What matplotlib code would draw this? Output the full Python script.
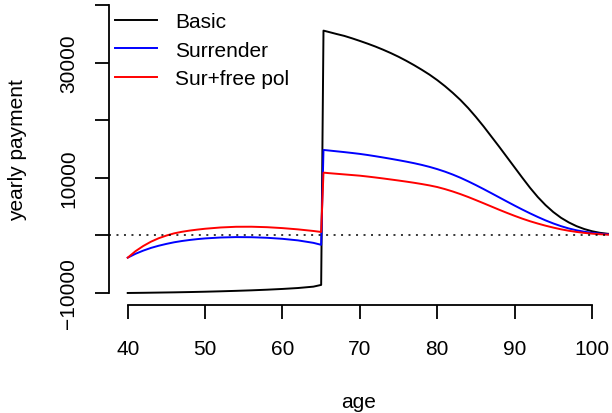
import matplotlib
matplotlib.use("Agg")
import matplotlib.pyplot as plt

# ---- data ----
age = [40, 41, 42, 43, 44, 45, 46, 47, 48, 49, 50, 52, 54, 56, 58, 60, 62, 64, 65,
       65.3, 66, 67, 68, 69, 70, 71, 72, 73, 74, 75, 76, 77, 78, 79, 80,
       81, 82, 83, 84, 85, 86, 87, 88, 89, 90, 91, 92, 93, 94, 95, 96, 97, 98, 99, 100,
       101, 102, 103, 104]

basic = [-10000, -9985, -9970, -9950, -9930, -9910, -9890, -9865, -9840, -9810, -9780,
         -9710, -9630, -9540, -9430, -9300, -9140, -8900, -8600,
         35540, 35300, 34950, 34620, 34200, 33750, 33280, 32780, 32230, 31640, 31000, 30300,
         29550, 28750, 27900, 26950,
         25900, 24750, 23500, 22100, 20550, 18900, 17150, 15400, 13600, 11800, 10000, 8250,
         6650, 5250, 4050, 3050, 2250, 1600, 1100, 720,
         450, 280, 170, 100]

surrender = [-3870, -3200, -2650, -2180, -1800, -1480, -1200, -980, -800, -650, -530,
             -370, -300, -320, -420, -600, -870, -1300, -1640,
             14830, 14730, 14590, 14450, 14300, 14140, 13950, 13740, 13520, 13290, 13050, 12800,
             12530, 12230, 11890, 11500,
             11060, 10560, 10000, 9380, 8720, 8030, 7320, 6600, 5880, 5170, 4480, 3820,
             3190, 2600, 2070, 1600, 1200, 880, 630, 440,
             300, 195, 120, 70]

sur_free = [-3870, -2750, -1850, -1100, -500, -30, 350, 620, 830, 1000, 1150,
            1370, 1490, 1500, 1420, 1260, 1040, 760, 590,
            10890, 10800, 10690, 10580, 10470, 10360, 10210, 10050, 9880, 9700, 9520, 9330,
            9130, 8910, 8670, 8390,
            8030, 7620, 7160, 6660, 6120, 5570, 5010, 4450, 3910, 3390, 2900, 2450,
            2050, 1680, 1350, 1050, 800, 600, 430, 300,
            200, 130, 80, 50]

series_names = ["Basic", "Surrender", "Sur+free pol"]
series_colors = ["black", "blue", "red"]

x_ticks = [40, 50, 60, 70, 80, 90, 100]
y_ticks = [-10000, 0, 10000, 20000, 30000, 40000]
y_tick_labels = ["\u221210000", "", "10000", "", "30000", ""]

# ---- figure ----
W, H, DPI = 612, 414, 100
plt.rcParams['font.family'] = ['Liberation Sans', 'DejaVu Sans']
fig = plt.figure(figsize=(W / DPI, H / DPI), dpi=DPI)

left_px, right_px = 109, 609
bottom_px, top_px = 305.5, -5.6
ax = fig.add_axes([left_px / W, (H - bottom_px) / H,
                   (right_px - left_px) / W, (bottom_px - top_px) / H])

lw = 1.4
for vals, name, col in zip([basic, surrender, sur_free], series_names, series_colors):
    ax.plot(age, vals, color=col, lw=lw, label=name)

ax.axhline(0, color='black', lw=1.1, linestyle=(0, (1.3, 3.6)))

ax.set_xlim(37.58, 102.2)
ax.set_ylim(-12000, 42000)

for s in ['top', 'right']:
    ax.spines[s].set_visible(False)
ax.spines['left'].set_bounds(-10000, 40000)
ax.spines['bottom'].set_bounds(40, 100)
for s in ['left', 'bottom']:
    ax.spines[s].set_linewidth(1.3)

ax.set_xticks(x_ticks)
ax.set_xticklabels([str(v) for v in x_ticks])
ax.set_yticks(y_ticks)
ax.set_yticklabels(y_tick_labels, rotation=90, va='center')
ax.tick_params(axis='both', length=10, width=1.3, labelsize=15, direction='out')
ax.tick_params(axis='x', pad=15)
ax.tick_params(axis='y', pad=12)

ax.set_xlabel("age", fontsize=15)
ax.set_ylabel("yearly payment", fontsize=15)
ax.xaxis.set_label_coords(0.5, -(403 - bottom_px) / (bottom_px - top_px), transform=ax.transAxes)
ax.yaxis.set_label_coords(-(left_px - 18) / (right_px - left_px), 0.5, transform=ax.transAxes)
ax.xaxis.label.set_va('center')
ax.yaxis.label.set_va('center')

leg = ax.legend(loc='upper left', frameon=False, fontsize=15,
                handlelength=2.0, handletextpad=0.9, labelspacing=0.45,
                borderpad=0, borderaxespad=0,
                bbox_to_anchor=(115 / W, 1 - 13.3 / H), bbox_transform=fig.transFigure)

fig.savefig("out.png", dpi=DPI)
